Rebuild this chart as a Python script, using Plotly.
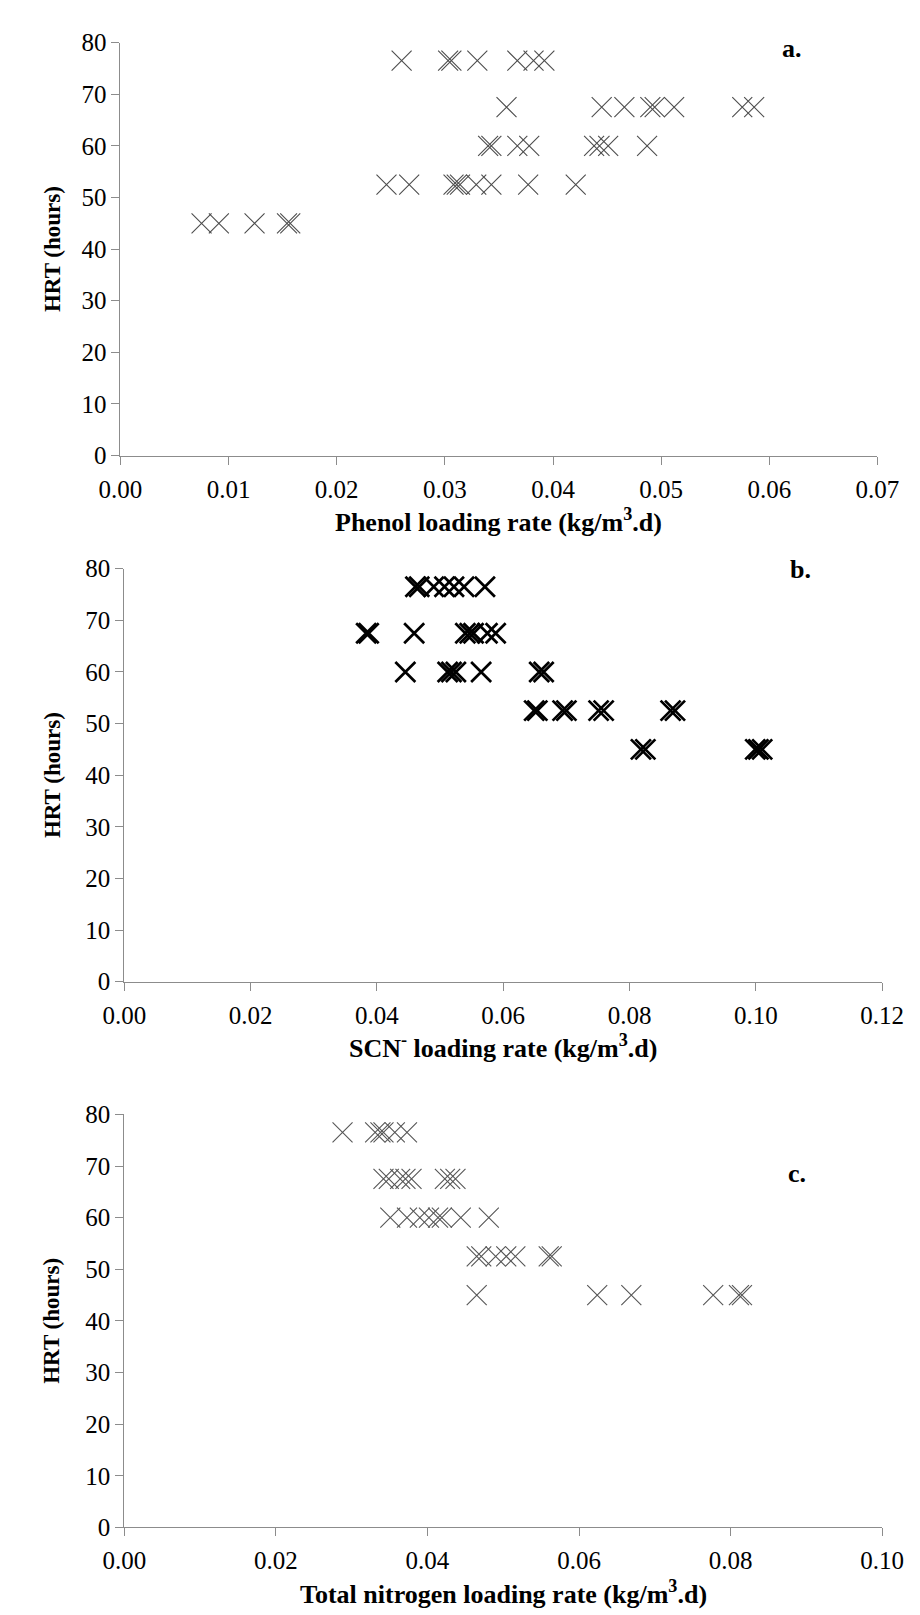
import plotly.graph_objects as go

# HRT levels (hours)
hrt_levels = [76.5, 67.5, 60, 52.5, 45]

# Panel a: phenol loading rate (kg/m3.d)
phenol_x = [0.0260, 0.0303, 0.0306, 0.0330, 0.0367, 0.0382, 0.0392,
            0.0357, 0.0445, 0.0466, 0.0490, 0.0494, 0.0512, 0.0575, 0.0586,
            0.0340, 0.0343, 0.0367, 0.0378, 0.0438, 0.0443, 0.0451, 0.0487,
            0.0246, 0.0267, 0.0308, 0.0311, 0.0314, 0.0329, 0.0343, 0.0377, 0.0421,
            0.0075, 0.0091, 0.0124, 0.0154, 0.0157]
phenol_y = [76.5] * 7 + [67.5] * 8 + [60] * 8 + [52.5] * 9 + [45] * 5

# Panel b: SCN- loading rate (kg/m3.d)
scn_x = [0.0461, 0.0467, 0.0490, 0.0507, 0.0522, 0.0538, 0.0571,
         0.0383, 0.0387, 0.0459, 0.0540, 0.0547, 0.0553, 0.0575, 0.0588,
         0.0445, 0.0512, 0.0518, 0.0525, 0.0565, 0.0657, 0.0664,
         0.0649, 0.0654, 0.0694, 0.0700, 0.0751, 0.0759, 0.0865, 0.0872,
         0.0818, 0.0825, 0.0999, 0.1004, 0.1010]
scn_y = [76.5] * 7 + [67.5] * 8 + [60] * 7 + [52.5] * 8 + [45] * 5

# Panel c: total nitrogen loading rate (kg/m3.d)
tn_x = [0.0288, 0.0331, 0.0338, 0.0342, 0.0357, 0.0373,
        0.0342, 0.0349, 0.0364, 0.0371, 0.0379, 0.0423, 0.0430, 0.0437,
        0.0351, 0.0373, 0.0390, 0.0402, 0.0414, 0.0419, 0.0444, 0.0481,
        0.0465, 0.0471, 0.0490, 0.0504, 0.0516, 0.0560, 0.0564,
        0.0465, 0.0624, 0.0669, 0.0777, 0.0811, 0.0815]
tn_y = [76.5] * 6 + [67.5] * 8 + [60] * 8 + [52.5] * 7 + [45] * 6

x_titles = ["Phenol loading rate (kg/m<sup>3</sup>.d)",
            "SCN<sup>-</sup> loading rate (kg/m<sup>3</sup>.d)",
            "Total nitrogen loading rate (kg/m<sup>3</sup>.d)"]
y_title = "HRT (hours)"
panel_labels = ["a.", "b.", "c."]
x_ranges = [[0, 0.07], [0, 0.12], [0, 0.10]]
x_dticks = [0.01, 0.02, 0.02]

W, H = 920, 1615
FONT = "Liberation Serif"

# pixel boxes: (left, right, top, bottom)
boxes = [(95, 890, 22, 442), (99, 895, 557, 977), (99, 895, 1112, 1532)]

fig = go.Figure()
series = [(phenol_x, phenol_y, "#4d4d4d", 1.1),
          (scn_x, scn_y, "#000000", 2.7),
          (tn_x, tn_y, "#555555", 1.1)]

for i, (xs, ys, col, lw) in enumerate(series):
    n = "" if i == 0 else str(i + 1)
    fig.add_trace(go.Scatter(
        x=xs, y=ys, mode="markers", xaxis="x" + n, yaxis="y" + n,
        marker=dict(symbol="x-thin", size=20, line=dict(color=col, width=lw)),
        showlegend=False, hoverinfo="skip"))

axis_common = dict(showline=True, linecolor="#8c8c8c", linewidth=1,
                   ticks="outside", ticklen=8, tickcolor="#8c8c8c",
                   showgrid=False, zeroline=False,
                   tickfont=dict(family=FONT, size=25, color="#000"))

layout = dict(width=W, height=H, margin=dict(l=0, r=0, t=0, b=0),
              font=dict(family=FONT, color="#000"),
              plot_bgcolor="white", paper_bgcolor="white", annotations=[])

for i, (l, r, t, b) in enumerate(boxes):
    n = "" if i == 0 else str(i + 1)
    layout["xaxis" + n] = dict(axis_common, domain=[l / W, r / W], anchor="y" + n,
                               range=x_ranges[i], dtick=x_dticks[i], tick0=0,
                               tickformat=".2f", ticklabelstandoff=3)
    layout["yaxis" + n] = dict(axis_common, domain=[1 - b / H, 1 - t / H], anchor="x" + n,
                               range=[0, 80], dtick=10, tick0=0)
    # x title
    layout["annotations"].append(dict(
        text="<b>" + x_titles[i] + "</b>", xref="paper", yref="paper",
        x=(l + r) / 2 / W, y=1 - (b + 66) / H, xanchor="center", yanchor="middle",
        showarrow=False, font=dict(family=FONT, size=26, color="#000")))
    # y title
    layout["annotations"].append(dict(
        text="<b>" + y_title + "</b>", xref="paper", yref="paper",
        x=23 / W, y=1 - (t + b) / 2 / H, xanchor="center", yanchor="middle",
        textangle=-90, showarrow=False, font=dict(family=FONT, size=23, color="#000")))

# panel labels
label_pos = [(800, 28), (809, 558), (806, 1172)]
for lab, (px, py) in zip(panel_labels, label_pos):
    layout["annotations"].append(dict(
        text="<b>" + lab + "</b>", xref="paper", yref="paper",
        x=px / W, y=1 - py / H, xanchor="center", yanchor="middle",
        showarrow=False, font=dict(family=FONT, size=26, color="#000")))

fig.update_layout(**layout)
fig.write_html("out.html")
